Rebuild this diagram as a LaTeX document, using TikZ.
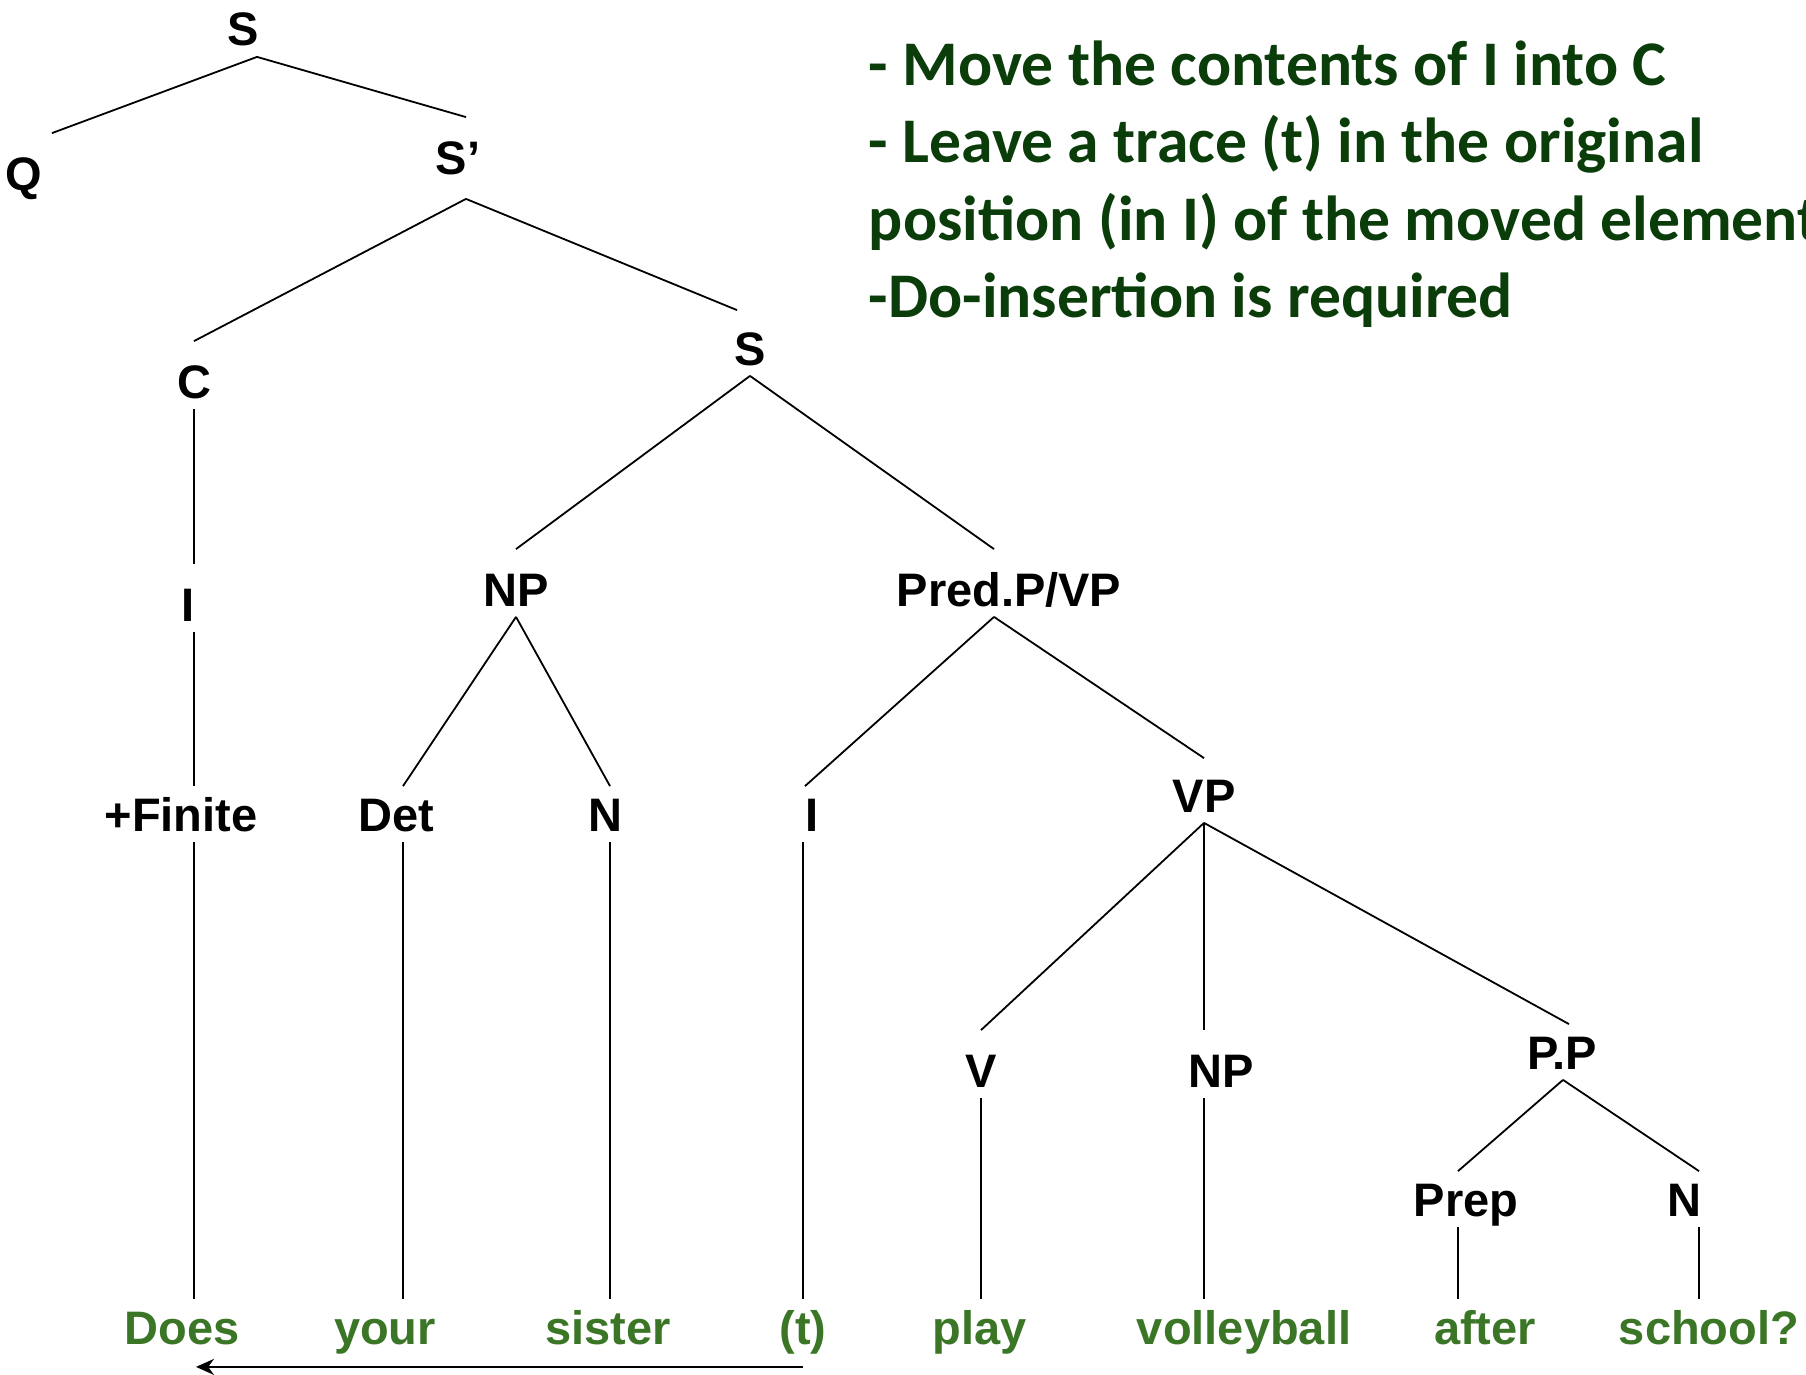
\documentclass[tikz,border=0pt]{standalone}
\usepackage{fontspec}
\setmainfont{Liberation Sans}
\newfontfamily\notefont{Carlito}
\usetikzlibrary{arrows.meta}
\definecolor{notegreen}{RGB}{10,61,10}
\definecolor{wordgreen}{RGB}{58,118,38}

\begin{document}
\begin{tikzpicture}[x=1pt,y=-1pt,line width=1.8pt,
  cat/.style={font=\fontsize{47}{56}\selectfont\bfseries,text height=34pt,text depth=0pt,inner xsep=0pt,inner ysep=10pt},
  word/.style={cat,text=wordgreen},
  note/.style={font=\notefont\fontsize{63.6}{77}\selectfont\bfseries,text=notegreen,anchor=base west,inner sep=0pt},
  movearrow/.style={line width=2.5pt,-{Stealth[length=18pt,width=16pt]}}]
\useasboundingbox (0,0) rectangle (1806,1375);

% categories
\node[cat] (s0) at (243,29) {S};
\node[cat] (q) at (24,174) {Q};
\node[cat] (sbar) at (458,158) {S’};
\node[cat] (c) at (194,381) {C};
\node[cat] (i1) at (188,604) {I};
\node[cat] (finite) at (181,814) {+Finite};
\node[cat] (s1) at (750,348) {S};
\node[cat] (np1) at (516,589) {NP};
\node[cat] (pred) at (1009,589) {Pred.P/VP};
\node[cat] (det) at (396,814) {Det};
\node[cat] (n1) at (605,814) {N};
\node[cat] (i2) at (812,814) {I};
\node[cat] (vp) at (1204,795) {VP};
\node[cat] (v) at (981,1070) {V};
\node[cat] (np2) at (1221,1070) {NP};
\node[cat] (pp) at (1562,1052) {P.P};
\node[cat] (prep) at (1466,1199) {Prep};
\node[cat] (n2) at (1684,1199) {N};

% words
\node[word] (does) at (182,1327) {Does};
\node[word] (your) at (385,1327) {your};
\node[word] (sister) at (608,1327) {sister};
\node[word] (trace) at (803,1327) {(t)};
\node[word] (play) at (980,1327) {play};
\node[word] (volley) at (1244,1327) {volleyball};
\node[word] (after) at (1485,1327) {after};
\node[word] (school) at (1709,1327) {school?};

% notes
\node[note] (note1) at (868,86) {- Move the contents of I into C};
\node[note] (note2) at (868,163) {- Leave a trace (t) in the original};
\node[note] (note3) at (868,240) {position (in I) of the moved element};
\node[note] (note4) at (868,317) {-Do-insertion is required};

\draw ([xshift=14pt]s0.south) -- ([xshift=28pt,yshift=13pt]q.north);
\draw ([xshift=14pt]s0.south) -- ([xshift=8pt,yshift=13pt]sbar.north);
\draw ([xshift=8pt,yshift=-13pt]sbar.south) -- ([yshift=12pt]c.north);
\draw ([xshift=8pt,yshift=-13pt]sbar.south) -- ([xshift=-13pt,yshift=10pt]s1.north);
\draw (c.south) -- ([yshift=12pt]c.south |- i1.north);
\draw (c.south |- i1.south) -- (c.south |- finite.north);
\draw (c.south |- finite.south) -- (c.south |- does.north);
\draw (s1.south) -- ([yshift=12pt]np1.north);
\draw (s1.south) -- ([xshift=-15pt,yshift=12pt]pred.north);
\draw (np1.south) -- ([xshift=7pt]det.north);
\draw (np1.south) -- ([xshift=5pt]n1.north);
\draw ([xshift=7pt]det.south) -- ([xshift=7pt]det.south |- your.north);
\draw ([xshift=5pt]n1.south) -- ([xshift=5pt]n1.south |- sister.north);
\draw ([xshift=-15pt]pred.south) -- ([xshift=-7pt]i2.north);
\draw ([xshift=-15pt]pred.south) -- ([yshift=9pt]vp.north);
\draw ([xshift=-9pt]i2.south) -- ([xshift=-9pt]i2.south |- trace.north);
\draw (vp.south) -- ([yshift=12pt]v.north);
\draw (vp.south) -- ([xshift=-17pt,yshift=12pt]np2.north);
\draw (vp.south) -- ([xshift=7pt]pp.north);
\draw (v.south) -- (v.south |- play.north);
\draw ([xshift=-17pt]np2.south) -- ([xshift=-17pt]np2.south |- volley.north);
\draw ([xshift=1pt]pp.south) -- ([xshift=-8pt]prep.north);
\draw ([xshift=1pt]pp.south) -- ([xshift=15pt]n2.north);
\draw ([xshift=-8pt]prep.south) -- ([xshift=-8pt]prep.south |- after.north);
\draw ([xshift=15pt]n2.south) -- ([xshift=15pt]n2.south |- school.north);

\draw[movearrow] ([yshift=-12pt]trace.south) -- ([xshift=14pt,yshift=-12pt]does.south);
\end{tikzpicture}
\end{document}
